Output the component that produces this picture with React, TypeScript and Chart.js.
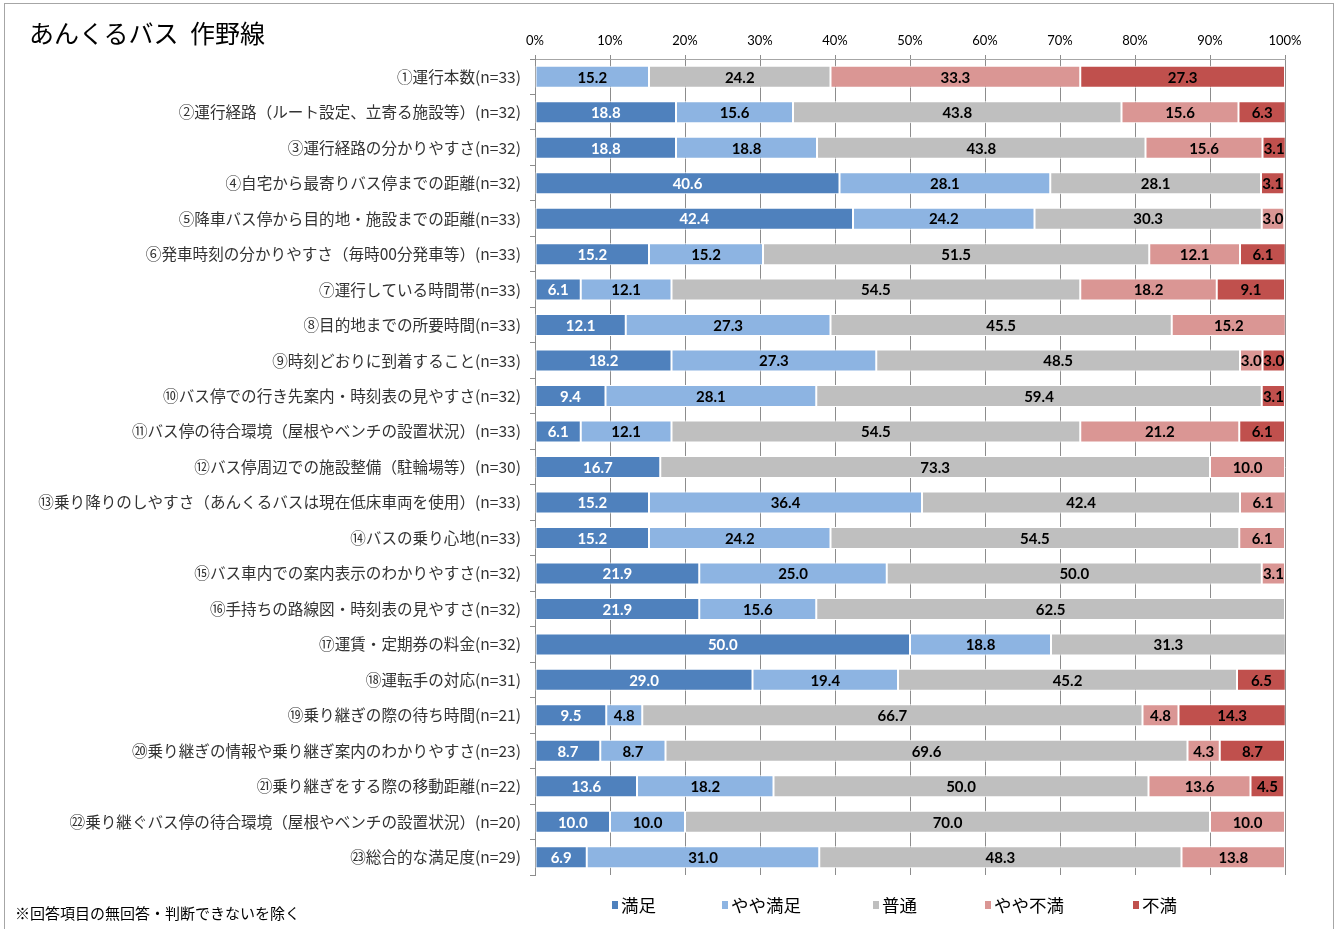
import React, { useEffect, useRef } from "react";
import { Chart, registerables } from "chart.js";

Chart.register(...registerables);

const titleText = "あんくるバス 作野線";
const footnoteText = "※回答項目の無回答・判断できないを除く";

const categories = [
  "①運行本数(n=33)",
  "②運行経路（ルート設定、立寄る施設等）(n=32)",
  "③運行経路の分かりやすさ(n=32)",
  "④自宅から最寄りバス停までの距離(n=32)",
  "⑤降車バス停から目的地・施設までの距離(n=33)",
  "⑥発車時刻の分かりやすさ（毎時00分発車等）(n=33)",
  "⑦運行している時間帯(n=33)",
  "⑧目的地までの所要時間(n=33)",
  "⑨時刻どおりに到着すること(n=33)",
  "⑩バス停での行き先案内・時刻表の見やすさ(n=32)",
  "⑪バス停の待合環境（屋根やベンチの設置状況）(n=33)",
  "⑫バス停周辺での施設整備（駐輪場等）(n=30)",
  "⑬乗り降りのしやすさ（あんくるバスは現在低床車両を使用）(n=33)",
  "⑭バスの乗り心地(n=33)",
  "⑮バス車内での案内表示のわかりやすさ(n=32)",
  "⑯手持ちの路線図・時刻表の見やすさ(n=32)",
  "⑰運賃・定期券の料金(n=32)",
  "⑱運転手の対応(n=31)",
  "⑲乗り継ぎの際の待ち時間(n=21)",
  "⑳乗り継ぎの情報や乗り継ぎ案内のわかりやすさ(n=23)",
  "㉑乗り継ぎをする際の移動距離(n=22)",
  "㉒乗り継ぐバス停の待合環境（屋根やベンチの設置状況）(n=20)",
  "㉓総合的な満足度(n=29)",
];

const seriesNames = ["満足", "やや満足", "普通", "やや不満", "不満"];

const satisfied = [0, 18.8, 18.8, 40.6, 42.4, 15.2, 6.1, 12.1, 18.2, 9.4, 6.1, 16.7, 15.2, 15.2, 21.9, 21.9, 50.0, 29.0, 9.5, 8.7, 13.6, 10.0, 6.9];
const somewhatSatisfied = [15.2, 15.6, 18.8, 28.1, 24.2, 15.2, 12.1, 27.3, 27.3, 28.1, 12.1, 0, 36.4, 24.2, 25.0, 15.6, 18.8, 19.4, 4.8, 8.7, 18.2, 10.0, 31.0];
const neutral = [24.2, 43.8, 43.8, 28.1, 30.3, 51.5, 54.5, 45.5, 48.5, 59.4, 54.5, 73.3, 42.4, 54.5, 50.0, 62.5, 31.3, 45.2, 66.7, 69.6, 50.0, 70.0, 48.3];
const somewhatDissatisfied = [33.3, 15.6, 15.6, 0, 3.0, 12.1, 18.2, 15.2, 3.0, 0, 21.2, 10.0, 6.1, 6.1, 3.1, 0, 0, 0, 4.8, 4.3, 13.6, 10.0, 13.8];
const dissatisfied = [27.3, 6.3, 3.1, 3.1, 0, 6.1, 9.1, 0, 3.0, 3.1, 6.1, 0, 0, 0, 0, 0, 0, 6.5, 14.3, 8.7, 4.5, 0, 0];

const seriesValues = [satisfied, somewhatSatisfied, neutral, somewhatDissatisfied, dissatisfied];
const seriesColors = ["#4F81BD", "#8DB4E2", "#BFBFBF", "#DA9694", "#C0504D"];

const xTickValues = [0, 10, 20, 30, 40, 50, 60, 70, 80, 90, 100];

const JP = '"Noto Sans CJK JP", "Noto Sans", sans-serif';

const valueLabels = {
  id: "valueLabels",
  afterDatasetsDraw(chart: any) {
    const ctx = chart.ctx;
    ctx.save();
    ctx.font = "bold 15px Lato, 'DejaVu Sans', sans-serif";
    ctx.textAlign = "center";
    ctx.textBaseline = "middle";
    chart.data.datasets.forEach((ds: any, di: number) => {
      const meta = chart.getDatasetMeta(di);
      meta.data.forEach((el: any, i: number) => {
        const v = ds.data[i];
        if (!v) return;
        const p = el.getProps(["x", "base", "y"], true);
        ctx.fillStyle = di === 0 ? "#ffffff" : "#000000";
        ctx.fillText(v.toFixed(1), (p.x + p.base) / 2, p.y + 1);
      });
    });
    ctx.restore();
  },
};

export default function App() {
  const canvasRef = useRef<HTMLCanvasElement | null>(null);

  useEffect(() => {
    if (!canvasRef.current) return;
    const chart = new Chart(canvasRef.current, {
      type: "bar",
      data: {
        labels: categories,
        datasets: seriesNames.map((name, i) => ({
          label: name,
          data: seriesValues[i],
          backgroundColor: seriesColors[i],
          borderColor: "#ffffff",
          borderWidth: 1,
          borderSkipped: false,
          categoryPercentage: 1,
          barPercentage: 0.62,
        })),
      },
      options: {
        indexAxis: "y",
        responsive: false,
        animation: false,
        layout: { padding: { left: 0, right: 55, top: 0, bottom: 54 } },
        plugins: {
          legend: { display: false },
          title: { display: false },
          tooltip: { enabled: false },
        },
        scales: {
          x: {
            position: "top",
            stacked: true,
            min: 0,
            max: 100,
            afterBuildTicks: (scale: any) => {
              scale.ticks = xTickValues.map((v) => ({ value: v }));
            },
            afterFit: (scale: any) => {
              scale.height = 59;
            },
            ticks: {
              callback: (v: any) => v + "%",
              font: { family: "Lato, sans-serif", size: 13 },
              color: "#000000",
              padding: 6,
              maxRotation: 0,
            },
            grid: {
              color: "#8C8C8C",
              lineWidth: 1,
              tickLength: 4,
              drawTicks: true,
            },
            border: { display: true, color: "#A6A6A6", width: 1 },
          },
          y: {
            stacked: true,
            afterFit: (scale: any) => {
              scale.width = 535;
            },
            ticks: {
              autoSkip: false,
              font: { family: JP, size: 15.6 },
              color: "#333333",
              padding: 9,
            },
            grid: {
              offset: true,
              drawOnChartArea: false,
              drawTicks: true,
              tickLength: 5,
              color: "#8C8C8C",
            },
            border: { display: true, color: "#8C8C8C", width: 1 },
          },
        },
      },
      plugins: [valueLabels],
    } as any);
    return () => chart.destroy();
  }, []);

  const legendStarts = [612, 722, 873, 985, 1133];

  return (
    <div
      style={{
        position: "absolute",
        left: 0,
        top: 0,
        width: 1340,
        height: 929,
        background: "#ffffff",
        overflow: "hidden",
      }}
    >
      <div
        style={{
          position: "absolute",
          left: 4,
          top: 3,
          width: 1330,
          height: 940,
          border: "1px solid #A6A6A6",
          boxSizing: "border-box",
        }}
      />
      <canvas
        ref={canvasRef}
        width={1340}
        height={929}
        style={{ position: "absolute", left: 0, top: 0 }}
      />
      <div
        style={{
          position: "absolute",
          left: 29,
          top: 15,
          fontFamily: JP,
          fontSize: 25,
          lineHeight: "34px",
          color: "#000",
          wordSpacing: 6,
          whiteSpace: "nowrap",
        }}
      >
        {titleText}
      </div>
      <div
        style={{
          position: "absolute",
          left: 15,
          top: 902,
          fontFamily: JP,
          fontSize: 15,
          lineHeight: "22px",
          color: "#000",
          whiteSpace: "nowrap",
        }}
      >
        {footnoteText}
      </div>
      {seriesNames.map((name, i) => (
        <div
          key={name}
          style={{
            position: "absolute",
            left: legendStarts[i],
            top: 893,
            display: "flex",
            alignItems: "center",
            fontFamily: JP,
            fontSize: 17.5,
            lineHeight: "24px",
            color: "#000",
            whiteSpace: "nowrap",
          }}
        >
          <span
            style={{
              display: "inline-block",
              width: 6,
              height: 8,
              background: seriesColors[i],
              marginRight: 3,
            }}
          />
          {name}
        </div>
      ))}
    </div>
  );
}
